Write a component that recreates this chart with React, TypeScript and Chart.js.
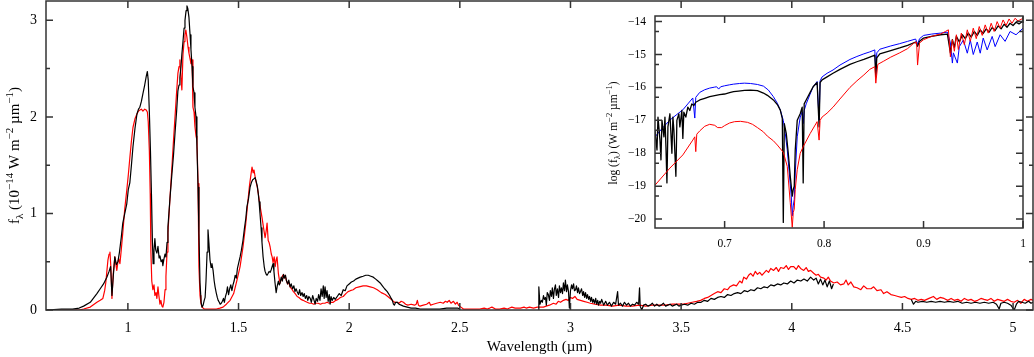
import { useEffect, useRef } from 'react';
import { Chart, registerables } from 'chart.js';

Chart.register(...registerables);

// ---------- main panel data: wavelength (µm), flux (1e-14 W m^-2 µm^-1) ----------
const mainBlack: [number, number | null][] = [
  [0.63, 0.0], [0.7, 0.01], [0.75, 0.01], [0.78, 0.02], [0.8, 0.04], [0.83, 0.08], [0.86, 0.17], [0.875, 0.22],
  [0.89, 0.27], [0.905, 0.34], [0.915, 0.4], [0.922, 0.45], [0.928, 0.15], [0.934, 0.35], [0.941, 0.55], [0.948, 0.47],
  [0.955, 0.5], [0.962, 0.6], [0.97, 0.75], [0.977, 0.9], [0.986, 1.0], [0.995, 1.1], [1.002, 1.25], [1.009, 1.32],
  [1.016, 1.5], [1.023, 1.69], [1.032, 1.88], [1.041, 2.03], [1.048, 2.08], [1.054, 2.1], [1.061, 2.16], [1.068, 2.24],
  [1.076, 2.33], [1.083, 2.42], [1.088, 2.47], [1.092, 2.38], [1.097, 2.05], [1.102, 1.65], [1.107, 1.15], [1.111, 0.7],
  [1.114, 0.48], [1.118, 0.62], [1.122, 0.74], [1.126, 0.62], [1.131, 0.59], [1.136, 0.66], [1.141, 0.54], [1.145, 0.56],
  [1.15, 0.5], [1.155, 0.52], [1.158, 0.46], [1.163, 0.53], [1.168, 0.58], [1.172, 0.55], [1.177, 0.7], [1.181, 0.86],
  [1.19, 1.15], [1.199, 1.41], [1.206, 1.6], [1.213, 1.83], [1.22, 2.05], [1.226, 2.27], [1.231, 2.33], [1.235, 2.41],
  [1.24, 2.52], [1.244, 2.65], [1.249, 2.78], [1.254, 2.92], [1.258, 3.0], [1.263, 3.1], [1.267, 3.15], [1.271, 3.12],
  [1.276, 3.03], [1.281, 2.85], [1.285, 2.7], [1.29, 2.52], [1.294, 2.31], [1.299, 2.25], [1.303, 2.1], [1.308, 2.0],
  [1.312, 1.7], [1.317, 1.27], [1.321, 0.8], [1.326, 0.28], [1.331, 0.08], [1.335, 0.03], [1.34, 0.05], [1.345, 0.1],
  [1.349, 0.13], [1.353, 0.3], [1.358, 0.6], [1.362, 0.83], [1.366, 0.7], [1.371, 0.52], [1.376, 0.44], [1.38, 0.48],
  [1.385, 0.41], [1.39, 0.3], [1.394, 0.24], [1.399, 0.18], [1.404, 0.13], [1.408, 0.1], [1.413, 0.08], [1.417, 0.06],
  [1.422, 0.07], [1.427, 0.09], [1.432, 0.12], [1.436, 0.08], [1.441, 0.14], [1.446, 0.18], [1.45, 0.24], [1.455, 0.16],
  [1.46, 0.22], [1.465, 0.26], [1.47, 0.2], [1.475, 0.26], [1.48, 0.3], [1.485, 0.36], [1.49, 0.33], [1.495, 0.43],
  [1.5, 0.48], [1.507, 0.55], [1.513, 0.62], [1.52, 0.72], [1.527, 0.85], [1.533, 0.95], [1.538, 1.07], [1.545, 1.15],
  [1.552, 1.27], [1.558, 1.32], [1.564, 1.35], [1.57, 1.36], [1.575, 1.37], [1.58, 1.33], [1.585, 1.28], [1.589, 1.21],
  [1.593, 1.12], [1.597, 1.0], [1.602, 0.85], [1.606, 0.7], [1.611, 0.55], [1.616, 0.45], [1.62, 0.4], [1.625, 0.37],
  [1.629, 0.36], [1.634, 0.38], [1.638, 0.4], [1.643, 0.39], [1.648, 0.42], [1.652, 0.45], [1.656, 0.48], [1.66, 0.4],
  [1.665, 0.28], [1.67, 0.18], [1.675, 0.25], [1.68, 0.3], [1.684, 0.26], [1.688, 0.28], [1.693, 0.34], [1.698, 0.3],
  [1.703, 0.37], [1.707, 0.33], [1.712, 0.36], [1.717, 0.3], [1.722, 0.27], [1.727, 0.31], [1.733, 0.24], [1.738, 0.27],
  [1.744, 0.22], [1.75, 0.25], [1.755, 0.19], [1.76, 0.22], [1.765, 0.19], [1.771, 0.16], [1.776, 0.21], [1.781, 0.15],
  [1.787, 0.18], [1.792, 0.14], [1.797, 0.17], [1.802, 0.12], [1.808, 0.15], [1.813, 0.1], [1.818, 0.14], [1.824, 0.12],
  [1.829, 0.08], [1.835, 0.15], [1.84, 0.11], [1.846, 0.06], [1.851, 0.12], [1.857, 0.09], [1.862, 0.16], [1.868, 0.1],
  [1.873, 0.22], [1.878, 0.14], [1.883, 0.25], [1.887, 0.12], [1.891, 0.24], [1.896, 0.13], [1.9, 0.2], [1.905, 0.09],
  [1.91, 0.16], [1.914, 0.06], [1.918, 0.14], [1.923, 0.1], [1.93, 0.13], [1.937, 0.11], [1.946, 0.14], [1.955, 0.17],
  [1.964, 0.15], [1.973, 0.21], [1.982, 0.2], [1.99, 0.25], [2.0, 0.27], [2.01, 0.29], [2.02, 0.3], [2.03, 0.32],
  [2.04, 0.33], [2.05, 0.34], [2.063, 0.35], [2.075, 0.36], [2.086, 0.36], [2.098, 0.35], [2.109, 0.34], [2.12, 0.32],
  [2.13, 0.3], [2.14, 0.28], [2.15, 0.25], [2.16, 0.22], [2.172, 0.19], [2.183, 0.15], [2.19, 0.12], [2.195, 0.1],
  [2.2, 0.06], [2.204, 0.05], [2.21, 0.08], [2.217, 0.08], [2.225, 0.06], [2.235, 0.05], [2.245, 0.04], [2.262, 0.03],
  [2.28, 0.02], [2.3, 0.02], [2.32, 0.01], [2.35, 0.01], [2.38, 0.01], [2.41, 0.01], [2.44, 0.02], [2.47, 0.02],
  [2.49, 0.02], [2.5, 0.01], [2.505, null],
  [2.855, 0.0], [2.857, 0.24], [2.862, 0.06], [2.868, 0.1], [2.873, 0.08], [2.878, 0.15], [2.882, 0.11], [2.887, 0.13],
  [2.891, 0.05], [2.895, 0.18], [2.9, 0.16], [2.905, 0.1], [2.909, 0.2], [2.914, 0.14], [2.918, 0.23], [2.923, 0.12],
  [2.927, 0.21], [2.932, 0.26], [2.936, 0.15], [2.941, 0.22], [2.946, 0.13], [2.95, 0.25], [2.955, 0.18], [2.959, 0.23],
  [2.964, 0.17], [2.968, 0.28], [2.973, 0.2], [2.977, 0.31], [2.982, 0.19], [2.986, 0.26], [2.991, 0.19], [2.995, 0.02],
  [3.0, 0.2], [3.005, 0.26], [3.009, 0.22], [3.014, 0.27], [3.018, 0.2], [3.023, 0.21], [3.027, 0.25], [3.032, 0.18],
  [3.036, 0.23], [3.041, 0.17], [3.045, 0.19], [3.05, 0.22], [3.055, 0.15], [3.059, 0.19], [3.064, 0.13], [3.068, 0.18],
  [3.073, 0.12], [3.077, 0.16], [3.082, 0.11], [3.086, 0.14], [3.091, 0.09], [3.095, 0.13], [3.1, 0.08], [3.104, 0.11],
  [3.109, 0.07], [3.114, 0.12], [3.118, 0.06], [3.123, 0.1], [3.127, 0.05], [3.132, 0.09], [3.136, 0.07], [3.141, 0.11],
  [3.15, 0.05], [3.159, 0.09], [3.167, 0.05], [3.176, 0.08], [3.185, 0.04], [3.195, 0.08], [3.204, 0.06], [3.213, 0.19],
  [3.217, 0.05], [3.226, 0.07], [3.235, 0.04], [3.244, 0.08], [3.253, 0.05], [3.262, 0.07], [3.271, 0.04], [3.28, 0.06],
  [3.29, 0.05], [3.299, 0.08], [3.308, 0.06], [3.312, 0.23], [3.315, 0.04], [3.322, 0.0], [3.33, 0.05], [3.34, 0.06],
  [3.35, 0.04], [3.36, 0.05], [3.37, 0.07], [3.38, 0.04], [3.39, 0.06], [3.4, 0.04], [3.41, 0.05], [3.42, 0.07],
  [3.43, 0.04], [3.44, 0.05], [3.45, 0.06], [3.46, 0.04], [3.47, 0.05], [3.48, 0.06], [3.49, 0.04], [3.5, 0.05],
  [3.515, 0.06], [3.53, 0.05], [3.545, 0.07], [3.56, 0.06], [3.575, 0.08], [3.59, 0.08], [3.605, 0.1], [3.62, 0.09],
  [3.635, 0.12], [3.65, 0.11], [3.665, 0.13], [3.68, 0.14], [3.695, 0.13], [3.71, 0.16], [3.725, 0.15], [3.74, 0.17],
  [3.755, 0.18], [3.77, 0.17], [3.785, 0.2], [3.8, 0.19], [3.815, 0.21], [3.83, 0.2], [3.845, 0.23], [3.86, 0.22],
  [3.875, 0.24], [3.89, 0.23], [3.905, 0.26], [3.92, 0.25], [3.935, 0.27], [3.95, 0.26], [3.964, 0.28], [3.98, 0.27],
  [3.995, 0.3], [4.01, 0.28], [4.025, 0.31], [4.041, 0.3], [4.055, 0.32], [4.07, 0.3], [4.085, 0.34], [4.099, 0.31],
  [4.11, 0.33], [4.12, 0.27], [4.13, 0.32], [4.14, 0.26], [4.15, 0.31], [4.16, 0.24], [4.17, 0.3], [4.18, 0.22],
  [4.188, 0.27], [4.19, null],
  [4.54, 0.11], [4.55, 0.06], [4.56, 0.09], [4.57, 0.08], [4.59, 0.09], [4.61, 0.08], [4.63, 0.09], [4.65, 0.08],
  [4.67, 0.09], [4.69, 0.08], [4.71, 0.09], [4.73, 0.08], [4.75, 0.09], [4.77, 0.07], [4.79, 0.08], [4.81, 0.07],
  [4.83, 0.08], [4.85, 0.07], [4.87, 0.08], [4.89, 0.07], [4.91, 0.08], [4.925, 0.06], [4.937, 0.01], [4.945, 0.07],
  [4.96, 0.08], [4.975, 0.07], [4.99, 0.05], [5.005, 0.0], [5.015, 0.06], [5.025, 0.09], [5.04, 0.08], [5.055, 0.07],
  [5.07, 0.09], [5.081, 0.07], [5.09, 0.08],
];

const mainRed: [number, number | null][] = [
  [0.63, 0.0], [0.7, 0.0], [0.75, 0.0], [0.78, 0.0], [0.8, 0.01], [0.83, 0.03], [0.86, 0.08], [0.875, 0.1],
  [0.887, 0.12], [0.895, 0.2], [0.9, 0.28], [0.905, 0.4], [0.91, 0.52], [0.915, 0.58], [0.919, 0.6], [0.923, 0.45],
  [0.928, 0.12], [0.934, 0.38], [0.941, 0.55], [0.946, 0.47], [0.95, 0.41], [0.955, 0.5], [0.959, 0.53], [0.964, 0.48],
  [0.97, 0.62], [0.977, 0.8], [0.986, 1.05], [0.995, 1.24], [1.002, 1.4], [1.009, 1.58], [1.016, 1.75], [1.023, 1.89],
  [1.032, 1.98], [1.041, 2.03], [1.048, 2.06], [1.054, 2.07], [1.061, 2.08], [1.068, 2.06], [1.076, 2.08], [1.083, 2.07],
  [1.088, 2.05], [1.092, 1.95], [1.097, 1.65], [1.101, 1.2], [1.104, 0.6], [1.108, 0.3], [1.113, 0.21], [1.118, 0.26],
  [1.122, 0.15], [1.127, 0.18], [1.131, 0.12], [1.136, 0.24], [1.14, 0.15], [1.145, 0.06], [1.149, 0.1], [1.154, 0.04],
  [1.158, 0.03], [1.163, 0.08], [1.168, 0.21], [1.172, 0.35], [1.177, 0.6], [1.181, 0.8], [1.19, 1.15], [1.199, 1.48],
  [1.206, 1.75], [1.213, 2.0], [1.22, 2.25], [1.226, 2.45], [1.231, 2.52], [1.235, 2.59], [1.24, 2.4], [1.244, 2.28],
  [1.249, 2.65], [1.254, 2.78], [1.258, 2.85], [1.262, 2.9], [1.267, 2.82], [1.272, 2.72], [1.276, 2.66], [1.281, 2.6],
  [1.285, 2.55], [1.29, 2.59], [1.294, 2.1], [1.299, 2.05], [1.303, 1.9], [1.308, 1.8], [1.312, 1.76], [1.317, 1.31],
  [1.321, 0.45], [1.326, 0.15], [1.33, 0.07], [1.335, 0.03], [1.345, 0.01], [1.36, 0.01], [1.38, 0.01], [1.4, 0.01],
  [1.416, 0.02], [1.43, 0.03], [1.445, 0.06], [1.462, 0.1], [1.478, 0.17], [1.493, 0.31], [1.507, 0.45], [1.52, 0.65],
  [1.532, 0.88], [1.543, 1.14], [1.55, 1.3], [1.556, 1.4], [1.561, 1.48], [1.566, 1.42], [1.57, 1.45], [1.575, 1.38],
  [1.58, 1.32], [1.585, 1.27], [1.589, 1.21], [1.597, 1.08], [1.606, 0.96], [1.613, 0.85], [1.62, 0.75], [1.625, 0.82],
  [1.629, 0.9], [1.634, 0.72], [1.638, 0.7], [1.643, 0.65], [1.648, 0.58], [1.652, 0.55], [1.656, 0.49], [1.661, 0.55],
  [1.666, 0.45], [1.67, 0.52], [1.674, 0.55], [1.68, 0.38], [1.684, 0.32], [1.688, 0.28], [1.693, 0.32], [1.7, 0.36],
  [1.705, 0.33], [1.71, 0.36], [1.717, 0.3], [1.722, 0.27], [1.727, 0.29], [1.733, 0.24], [1.74, 0.22], [1.748, 0.19],
  [1.756, 0.17], [1.765, 0.14], [1.773, 0.13], [1.782, 0.11], [1.792, 0.1], [1.8, 0.09], [1.81, 0.08], [1.82, 0.07],
  [1.83, 0.07], [1.84, 0.06], [1.85, 0.07], [1.86, 0.07], [1.87, 0.06], [1.88, 0.07], [1.89, 0.07], [1.9, 0.08],
  [1.91, 0.07], [1.92, 0.08], [1.928, 0.08], [1.94, 0.1], [1.95, 0.11], [1.96, 0.13], [1.973, 0.14], [1.985, 0.17],
  [1.995, 0.19], [2.005, 0.2], [2.018, 0.21], [2.03, 0.23], [2.045, 0.24], [2.063, 0.25], [2.078, 0.25], [2.095, 0.24],
  [2.11, 0.23], [2.127, 0.21], [2.145, 0.18], [2.163, 0.16], [2.18, 0.13], [2.195, 0.1], [2.205, 0.08], [2.217, 0.08],
  [2.225, 0.07], [2.235, 0.09], [2.245, 0.08], [2.255, 0.06], [2.265, 0.05], [2.28, 0.06], [2.295, 0.05], [2.303, 0.06],
  [2.308, 0.1], [2.313, 0.05], [2.32, 0.04], [2.335, 0.05], [2.35, 0.06], [2.362, 0.08], [2.368, 0.05], [2.38, 0.06],
  [2.395, 0.07], [2.412, 0.08], [2.425, 0.07], [2.435, 0.09], [2.443, 0.08], [2.452, 0.1], [2.46, 0.07], [2.471, 0.09],
  [2.48, 0.06], [2.488, 0.08], [2.494, 0.05], [2.505, 0.03], [2.516, 0.01], [2.54, 0.01], [2.561, 0.01], [2.59, 0.01],
  [2.61, 0.02], [2.624, 0.01], [2.635, 0.02], [2.645, 0.03], [2.661, 0.01], [2.68, 0.01], [2.7, 0.02], [2.715, 0.01],
  [2.725, 0.02], [2.735, 0.03], [2.75, 0.02], [2.774, 0.02], [2.79, 0.03], [2.8, 0.02], [2.815, 0.03], [2.833, 0.02],
  [2.85, 0.03], [2.865, 0.03], [2.878, 0.03], [2.89, 0.04], [2.905, 0.05], [2.923, 0.07], [2.935, 0.06], [2.945, 0.09],
  [2.955, 0.08], [2.968, 0.1], [2.98, 0.11], [2.99, 0.1], [3.0, 0.13], [3.009, 0.12], [3.02, 0.14], [3.03, 0.11],
  [3.045, 0.1], [3.06, 0.09], [3.075, 0.08], [3.09, 0.07], [3.11, 0.06], [3.136, 0.05], [3.16, 0.05], [3.19, 0.04],
  [3.22, 0.05], [3.25, 0.04], [3.28, 0.04], [3.31, 0.05], [3.34, 0.04], [3.37, 0.05], [3.4, 0.05], [3.43, 0.05],
  [3.46, 0.06], [3.485, 0.06], [3.511, 0.06], [3.53, 0.07], [3.55, 0.08], [3.57, 0.09], [3.588, 0.1], [3.605, 0.12],
  [3.62, 0.13], [3.635, 0.15], [3.65, 0.17], [3.665, 0.19], [3.68, 0.18], [3.695, 0.22], [3.71, 0.21], [3.72, 0.24],
  [3.737, 0.26], [3.75, 0.25], [3.765, 0.3], [3.775, 0.28], [3.783, 0.34], [3.795, 0.32], [3.805, 0.36], [3.814, 0.38],
  [3.825, 0.35], [3.835, 0.4], [3.845, 0.37], [3.855, 0.39], [3.865, 0.36], [3.873, 0.38], [3.885, 0.41], [3.895, 0.39],
  [3.905, 0.43], [3.918, 0.41], [3.93, 0.44], [3.94, 0.4], [3.95, 0.44], [3.964, 0.43], [3.975, 0.46], [3.985, 0.42],
  [3.995, 0.45], [4.009, 0.45], [4.02, 0.42], [4.03, 0.46], [4.04, 0.43], [4.054, 0.41], [4.065, 0.44], [4.075, 0.4],
  [4.085, 0.41], [4.099, 0.38], [4.11, 0.36], [4.12, 0.37], [4.13, 0.34], [4.145, 0.33], [4.155, 0.31], [4.165, 0.34],
  [4.175, 0.3], [4.19, 0.28], [4.205, 0.29], [4.22, 0.26], [4.235, 0.27], [4.245, 0.31], [4.255, 0.26], [4.267, 0.29],
  [4.28, 0.24], [4.295, 0.23], [4.312, 0.21], [4.325, 0.25], [4.34, 0.22], [4.358, 0.22], [4.37, 0.24], [4.385, 0.2],
  [4.403, 0.21], [4.415, 0.17], [4.43, 0.19], [4.448, 0.16], [4.465, 0.15], [4.48, 0.14], [4.495, 0.13], [4.51, 0.14],
  [4.525, 0.12], [4.54, 0.11], [4.555, 0.12], [4.57, 0.1], [4.585, 0.11], [4.6, 0.1], [4.62, 0.12], [4.64, 0.14],
  [4.655, 0.11], [4.67, 0.13], [4.688, 0.12], [4.705, 0.1], [4.72, 0.12], [4.734, 0.1], [4.75, 0.11], [4.765, 0.09],
  [4.78, 0.12], [4.796, 0.1], [4.81, 0.11], [4.825, 0.09], [4.84, 0.1], [4.855, 0.12], [4.869, 0.11], [4.885, 0.1],
  [4.9, 0.12], [4.915, 0.09], [4.93, 0.11], [4.945, 0.1], [4.96, 0.09], [4.975, 0.11], [4.99, 0.09], [5.005, 0.08],
  [5.02, 0.1], [5.035, 0.07], [5.05, 0.11], [5.065, 0.09], [5.081, 0.11], [5.09, 0.1],
];

// ---------- inset data: wavelength (µm), log10 flux ----------
const insetBlue: [number, number][] = [
  [0.63, -17.5], [0.637, -17.25], [0.645, -16.99], [0.652, -16.82], [0.658, -16.68], [0.663, -16.5], [0.668, -16.32],
  [0.67, -16.93], [0.671, -16.3], [0.675, -16.15], [0.68, -16.07], [0.685, -16.02], [0.69, -15.99], [0.692, -15.98],
  [0.694, -16.05], [0.696, -15.98], [0.7, -15.95], [0.705, -15.92], [0.709, -15.9], [0.715, -15.88], [0.72, -15.87],
  [0.726, -15.88], [0.733, -15.91], [0.739, -15.96], [0.744, -16.08], [0.749, -16.28], [0.753, -16.48], [0.756, -16.69],
  [0.759, -17.0], [0.761, -17.4], [0.763, -17.9], [0.765, -18.6], [0.767, -19.3], [0.768, -19.9], [0.769, -19.6],
  [0.77, -19.4], [0.771, -18.6], [0.773, -17.5], [0.776, -16.9], [0.778, -16.75], [0.779, -17.1], [0.78, -16.7],
  [0.782, -16.5], [0.786, -16.2], [0.789, -15.98], [0.793, -15.82], [0.795, -17.0], [0.796, -15.8], [0.798, -15.68],
  [0.803, -15.57], [0.809, -15.47], [0.816, -15.32], [0.826, -15.15], [0.833, -15.06], [0.84, -14.98], [0.846, -14.92],
  [0.851, -14.86], [0.852, -15.6], [0.853, -14.95], [0.856, -14.84], [0.867, -14.74], [0.876, -14.67], [0.884, -14.6],
  [0.892, -14.53], [0.894, -14.68], [0.896, -14.52], [0.9, -14.42], [0.908, -14.38], [0.917, -14.35], [0.924, -14.32],
  [0.927, -14.65], [0.929, -15.26], [0.93, -14.95], [0.934, -15.26], [0.936, -14.76], [0.94, -14.56], [0.944, -14.96],
  [0.947, -14.56], [0.95, -15.0], [0.954, -14.62], [0.957, -14.96], [0.96, -14.5], [0.964, -14.86], [0.969, -14.45],
  [0.972, -14.76], [0.977, -14.4], [0.982, -14.6], [0.987, -14.3], [0.993, -14.4], [1.0, -14.2],
];

const insetBlack: [number, number][] = [
  [0.63, -17.3], [0.632, -17.9], [0.633, -16.9], [0.635, -17.6], [0.636, -18.2], [0.637, -17.0], [0.639, -17.5],
  [0.64, -16.9], [0.641, -17.8], [0.642, -18.9], [0.643, -17.2], [0.645, -16.8], [0.646, -17.4], [0.647, -18.0],
  [0.648, -16.9], [0.649, -17.3], [0.651, -18.7], [0.652, -17.0], [0.654, -16.8], [0.655, -17.2], [0.657, -16.7],
  [0.658, -17.55], [0.659, -16.75], [0.661, -16.9], [0.663, -16.6], [0.665, -16.7], [0.667, -16.5], [0.669, -16.55],
  [0.671, -16.45], [0.675, -16.38], [0.68, -16.33], [0.685, -16.28], [0.69, -16.25], [0.695, -16.22], [0.7, -16.2],
  [0.705, -16.16], [0.709, -16.13], [0.714, -16.11], [0.72, -16.09], [0.726, -16.08], [0.733, -16.1], [0.739, -16.17],
  [0.743, -16.24], [0.749, -16.38], [0.753, -16.52], [0.756, -16.69], [0.758, -16.95], [0.759, -20.1], [0.76, -17.1],
  [0.762, -17.4], [0.764, -18.0], [0.766, -18.7], [0.768, -19.3], [0.769, -19.1], [0.77, -19.0], [0.771, -17.9],
  [0.773, -17.0], [0.776, -16.8], [0.778, -16.6], [0.779, -18.9], [0.78, -16.5], [0.782, -16.38], [0.786, -16.15],
  [0.789, -15.98], [0.793, -15.85], [0.795, -17.2], [0.796, -15.85], [0.798, -15.77], [0.803, -15.68], [0.809, -15.57],
  [0.816, -15.45], [0.826, -15.3], [0.833, -15.22], [0.84, -15.15], [0.846, -15.08], [0.851, -15.02], [0.852, -15.68],
  [0.853, -15.1], [0.856, -14.98], [0.867, -14.88], [0.876, -14.8], [0.884, -14.72], [0.892, -14.62], [0.894, -14.75],
  [0.896, -14.6], [0.9, -14.5], [0.908, -14.45], [0.917, -14.4], [0.924, -14.38], [0.927, -14.95], [0.929, -14.55],
  [0.931, -14.78], [0.933, -14.45], [0.936, -14.62], [0.939, -14.4], [0.942, -14.52], [0.945, -14.35], [0.948, -14.47],
  [0.951, -14.3], [0.954, -14.42], [0.957, -14.25], [0.96, -14.36], [0.963, -14.22], [0.966, -14.32], [0.969, -14.18],
  [0.972, -14.27], [0.975, -14.13], [0.978, -14.22], [0.981, -14.08], [0.984, -14.17], [0.987, -14.05], [0.99, -14.12],
  [0.993, -14.02], [0.996, -14.07], [1.0, -13.98],
];

const insetRed: [number, number][] = [
  [0.63, -18.97], [0.645, -18.45], [0.658, -18.05], [0.668, -17.6], [0.67, -17.5], [0.671, -17.95], [0.672, -17.42],
  [0.675, -17.32], [0.68, -17.18], [0.685, -17.12], [0.69, -17.15], [0.693, -17.22], [0.697, -17.22], [0.7, -17.16],
  [0.705, -17.08], [0.71, -17.04], [0.716, -17.03], [0.723, -17.06], [0.728, -17.12], [0.733, -17.22], [0.739, -17.35],
  [0.743, -17.48], [0.749, -17.62], [0.753, -17.75], [0.759, -17.97], [0.763, -18.4], [0.766, -19.5], [0.768, -20.25],
  [0.769, -19.8], [0.77, -19.7], [0.771, -19.1], [0.773, -18.5], [0.776, -18.0], [0.779, -17.8], [0.786, -17.4],
  [0.793, -17.04], [0.795, -17.6], [0.796, -17.0], [0.798, -16.9], [0.803, -16.78], [0.809, -16.6], [0.816, -16.35],
  [0.826, -16.0], [0.833, -15.8], [0.84, -15.62], [0.846, -15.45], [0.851, -15.37], [0.852, -15.87], [0.854, -15.3],
  [0.86, -15.2], [0.867, -15.08], [0.876, -14.95], [0.884, -14.82], [0.89, -14.66], [0.893, -14.62], [0.894, -15.32],
  [0.896, -14.65], [0.9, -14.55], [0.908, -14.45], [0.917, -14.38], [0.922, -14.3], [0.925, -14.25], [0.927, -15.07],
  [0.929, -14.55], [0.931, -14.9], [0.933, -14.4], [0.935, -14.85], [0.938, -14.35], [0.941, -14.7], [0.944, -14.25],
  [0.947, -14.6], [0.95, -14.2], [0.953, -14.52], [0.956, -14.15], [0.959, -14.42], [0.962, -14.1], [0.965, -14.35],
  [0.968, -14.05], [0.971, -14.3], [0.974, -14.0], [0.977, -14.2], [0.98, -13.95], [0.983, -14.12], [0.986, -13.92],
  [0.989, -14.05], [0.992, -13.9], [0.995, -13.98], [1.0, -13.9],
];

// ---------- ticks ----------
const mainXTicks = [1, 1.5, 2, 2.5, 3, 3.5, 4, 4.5, 5];
const mainYTicks = [0, 1, 2, 3];
const mainYMinor = [0.5, 1.5, 2.5];
const insetXTicks = [0.7, 0.8, 0.9, 1];
const insetYTicks = [-20, -19, -18, -17, -16, -15, -14];
const insetYMinor = [-19.301, -18.301, -17.301, -16.301, -15.301, -14.301];

// ---------- text ----------
const mainXTitle = 'Wavelength (µm)';
type Seg = { t: string; k: 'n' | 'sup' | 'sub' };
const mainYTitle: Seg[] = [
  { t: 'f', k: 'n' }, { t: 'λ', k: 'sub' }, { t: ' (10', k: 'n' }, { t: '−14', k: 'sup' },
  { t: ' W m', k: 'n' }, { t: '−2', k: 'sup' }, { t: ' µm', k: 'n' }, { t: '−1', k: 'sup' }, { t: ')', k: 'n' },
];
const insetYTitle: Seg[] = [
  { t: 'log (f', k: 'n' }, { t: 'λ', k: 'sub' }, { t: ') (W m', k: 'n' }, { t: '−2', k: 'sup' },
  { t: ' µm', k: 'n' }, { t: '−1', k: 'sup' }, { t: ')', k: 'n' },
];

const FAMILY = "'Liberation Serif', 'DejaVu Serif', serif";
const AXIS_COLOR = '#333333';

function drawRich(ctx: CanvasRenderingContext2D, segs: Seg[], cx: number, cy: number, base: number, small: number) {
  ctx.save();
  const fontOf = (s: Seg) => `${s.k === 'n' ? base : small}px ${FAMILY}`;
  let total = 0;
  for (const s of segs) {
    ctx.font = fontOf(s);
    total += ctx.measureText(s.t).width;
  }
  ctx.translate(cx, cy);
  ctx.rotate(-Math.PI / 2);
  ctx.textAlign = 'left';
  ctx.textBaseline = 'alphabetic';
  ctx.fillStyle = '#000';
  let x = -total / 2;
  for (const s of segs) {
    ctx.font = fontOf(s);
    const dy = s.k === 'sup' ? -base * 0.42 : s.k === 'sub' ? base * 0.28 : 0;
    ctx.fillText(s.t, x, dy);
    x += ctx.measureText(s.t).width;
  }
  ctx.restore();
}

type FrameOpts = {
  xMajor: number[];
  yMajor: number[];
  yMinor: number[];
  major: number;
  minor: number;
  lw: number;
  fill?: boolean;
  title: Seg[];
  titleX: number;
  titleY: number;
  titleSize: number;
  titleSmall: number;
};

function framePlugin(o: FrameOpts) {
  return {
    id: 'frameTicks',
    beforeDraw(chart: any) {
      if (!o.fill) return;
      const { ctx, chartArea: a } = chart;
      ctx.save();
      ctx.fillStyle = '#ffffff';
      ctx.fillRect(a.left, a.top, a.right - a.left, a.bottom - a.top);
      ctx.restore();
    },
    afterDraw(chart: any) {
      const { ctx, chartArea: a } = chart;
      const xs = chart.scales.x;
      const ys = chart.scales.y;
      ctx.save();
      ctx.strokeStyle = AXIS_COLOR;
      ctx.lineWidth = o.lw;
      ctx.beginPath();
      const seg = (x1: number, y1: number, x2: number, y2: number) => {
        ctx.moveTo(x1, y1);
        ctx.lineTo(x2, y2);
      };
      for (const v of o.xMajor) {
        const p = xs.getPixelForValue(v);
        seg(p, a.bottom, p, a.bottom - o.major);
        seg(p, a.top, p, a.top + o.major);
      }
      for (const v of o.yMajor) {
        const p = ys.getPixelForValue(v);
        seg(a.left, p, a.left + o.major, p);
        seg(a.right, p, a.right - o.major, p);
      }
      for (const v of o.yMinor) {
        const p = ys.getPixelForValue(v);
        seg(a.left, p, a.left + o.minor, p);
        seg(a.right, p, a.right - o.minor, p);
      }
      ctx.stroke();
      ctx.strokeRect(a.left, a.top, a.right - a.left, a.bottom - a.top);
      ctx.restore();
      drawRich(ctx, o.title, o.titleX, o.titleY, o.titleSize, o.titleSmall);
    },
  };
}

const fmtMinus = (v: number) => (v < 0 ? '−' + String(Math.abs(v)) : String(v));

export default function App() {
  const mainRef = useRef<HTMLCanvasElement>(null);
  const insetRef = useRef<HTMLCanvasElement>(null);

  useEffect(() => {
    if (!mainRef.current || !insetRef.current) return;

    const main = new Chart(mainRef.current, {
      type: 'line',
      data: {
        datasets: [
          { label: 'black', data: mainBlack as any, borderColor: '#000000', borderWidth: 1.2 },
          { label: 'red', data: mainRed as any, borderColor: '#ff0000', borderWidth: 1.2 },
        ],
      },
      options: {
        animation: false,
        responsive: false,
        devicePixelRatio: 1,
        layout: { padding: { top: 1, right: 1, left: 0, bottom: 0 } },
        elements: { point: { radius: 0 }, line: { tension: 0, borderJoinStyle: 'round', fill: false } },
        plugins: { legend: { display: false }, tooltip: { enabled: false } },
        scales: {
          x: {
            type: 'linear',
            min: 0.63,
            max: 5.09,
            border: { display: false },
            grid: { display: false, drawTicks: false },
            afterBuildTicks: (s: any) => { s.ticks = mainXTicks.map((v) => ({ value: v })); },
            afterFit: (s: any) => { s.height = 47; s.paddingLeft = 0; s.paddingRight = 0; },
            ticks: { padding: 9.5, color: '#000', font: { family: FAMILY, size: 14 }, maxRotation: 0, autoSkip: false, callback: (v: any) => String(v) },
            title: { display: true, text: mainXTitle, color: '#000', font: { family: FAMILY, size: 15 }, padding: { top: 0, bottom: 1 } },
          },
          y: {
            type: 'linear',
            min: 0,
            max: 3.2,
            border: { display: false },
            grid: { display: false, drawTicks: false },
            afterBuildTicks: (s: any) => { s.ticks = mainYTicks.map((v) => ({ value: v })); },
            afterFit: (s: any) => { s.width = 46; s.paddingTop = 0; s.paddingBottom = 0; },
            ticks: { padding: 9, color: '#000', font: { family: FAMILY, size: 14 }, callback: (v: any) => String(v) },
          },
        },
      },
      plugins: [
        framePlugin({
          xMajor: mainXTicks, yMajor: mainYTicks, yMinor: mainYMinor, major: 7, minor: 4, lw: 1.5,
          title: mainYTitle, titleX: 19, titleY: 155.5, titleSize: 15, titleSmall: 11,
        }),
      ],
    });

    const inset = new Chart(insetRef.current, {
      type: 'line',
      data: {
        datasets: [
          { label: 'red', data: insetRed as any, borderColor: '#ff0000', borderWidth: 1 },
          { label: 'black', data: insetBlack as any, borderColor: '#000000', borderWidth: 1.3 },
          { label: 'blue', data: insetBlue as any, borderColor: '#0000ff', borderWidth: 1 },
        ],
      },
      options: {
        animation: false,
        responsive: false,
        devicePixelRatio: 1,
        layout: { padding: { top: 16, right: 11, left: 0, bottom: 0 } },
        elements: { point: { radius: 0 }, line: { tension: 0, borderJoinStyle: 'round', fill: false } },
        plugins: { legend: { display: false }, tooltip: { enabled: false } },
        scales: {
          x: {
            type: 'linear',
            min: 0.63,
            max: 1.0,
            border: { display: false },
            grid: { display: false, drawTicks: false },
            afterBuildTicks: (s: any) => { s.ticks = insetXTicks.map((v) => ({ value: v })); },
            afterFit: (s: any) => { s.height = 32; s.paddingLeft = 0; s.paddingRight = 0; },
            ticks: { padding: 9, color: '#000', font: { family: FAMILY, size: 11.5 }, maxRotation: 0, autoSkip: false, callback: (v: any) => String(v) },
          },
          y: {
            type: 'linear',
            min: -20.27,
            max: -13.83,
            border: { display: false },
            grid: { display: false, drawTicks: false },
            afterBuildTicks: (s: any) => { s.ticks = insetYTicks.map((v) => ({ value: v })); },
            afterFit: (s: any) => { s.width = 65; s.paddingTop = 0; s.paddingBottom = 0; },
            ticks: { padding: 9, color: '#000', font: { family: FAMILY, size: 11.5 }, callback: (v: any) => fmtMinus(Number(v)) },
          },
        },
      },
      plugins: [
        framePlugin({
          xMajor: insetXTicks, yMajor: insetYTicks, yMinor: insetYMinor, major: 7, minor: 4, lw: 1.5, fill: true,
          title: insetYTitle, titleX: 27, titleY: 133, titleSize: 11.5, titleSmall: 8.5,
        }),
      ],
    });

    return () => {
      main.destroy();
      inset.destroy();
    };
  }, []);

  return (
    <div style={{ position: 'fixed', left: 0, top: 0, width: 1034, height: 357, background: '#fff' }}>
      <canvas ref={mainRef} width={1034} height={357} style={{ position: 'absolute', left: 0, top: 0 }} />
      <canvas ref={insetRef} width={444} height={260} style={{ position: 'absolute', left: 590, top: 0 }} />
    </div>
  );
}
